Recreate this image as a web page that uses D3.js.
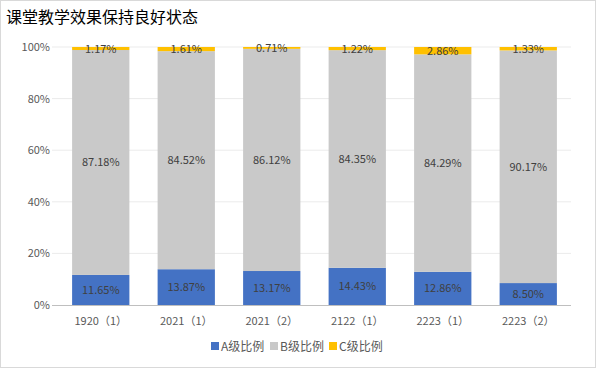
<!DOCTYPE html>
<html>
<head>
<meta charset="utf-8">
<script src="https://cdn.jsdelivr.net/npm/d3@7"></script>
<style>
  body { margin: 0; background: #fff; }
  svg { display: block; font-family: "Noto Sans CJK SC", "DejaVu Sans", sans-serif; }
</style>
</head>
<body>
<script>
const categories = ['1920（1）', '2021（1）', '2021（2）', '2122（1）', '2223（1）', '2223（2）']
const seriesNames = ['A级比例', 'B级比例', 'C级比例']
const aValues = [11.65, 13.87, 13.17, 14.43, 12.86, 8.50]
const bValues = [87.18, 84.52, 86.12, 84.35, 84.29, 90.17]
const cValues = [1.17, 1.61, 0.71, 1.22, 2.86, 1.33]
const yTicks = [0, 20, 40, 60, 80, 100]
const colors = ['#4472c4', '#c9c9c9', '#ffc000']

var width = 596,
    height = 368
var margin = {top: 47, right: 25, bottom: 63, left: 58}

var svg = d3.select('body').append('svg')
    .attr('width', width)
    .attr('height', height)

svg.append('rect')
    .attr('x', 0.5).attr('y', 0.5)
    .attr('width', width - 1).attr('height', height - 1)
    .attr('fill', '#fff')
    .attr('stroke', '#d9d9d9')

svg.append('text')
    .attr('x', 6).attr('y', 23)
    .attr('font-size', 16)
    .attr('fill', '#000')
    .text('课堂教学效果保持良好状态')

var x = d3.scaleBand()
    .domain(categories)
    .range([margin.left, width - margin.right])
    .paddingInner(0.33)
    .paddingOuter(0.165)

var y = d3.scaleLinear()
    .domain([0, 100])
    .range([height - margin.bottom, margin.top])

// gridlines
svg.append('g')
    .selectAll('line')
    .data(yTicks.slice(1))
    .enter().append('line')
    .attr('x1', margin.left - 6).attr('x2', width - margin.right)
    .attr('y1', d => y(d)).attr('y2', d => y(d))
    .attr('stroke', '#ebebeb')

var rows = categories.map((c, i) => ({cat: c, A: aValues[i], B: bValues[i], C: cValues[i]}))
var stacked = d3.stack().keys(['A', 'B', 'C'])(rows)

var groups = svg.append('g')
    .selectAll('g')
    .data(stacked)
    .enter().append('g')
    .attr('fill', (d, i) => colors[i])

groups.selectAll('rect')
    .data(d => d)
    .enter().append('rect')
    .attr('x', d => x(d.data.cat))
    .attr('width', x.bandwidth())
    .attr('y', d => y(Math.min(d[1], 100)))
    .attr('height', d => y(d[0]) - y(Math.min(d[1], 100)))

// value labels
groups.selectAll('text')
    .data(d => d)
    .enter().append('text')
    .attr('x', d => x(d.data.cat) + x.bandwidth() / 2)
    .attr('y', d => y((d[0] + Math.min(d[1], 100)) / 2) + 4)
    .attr('text-anchor', 'middle')
    .attr('font-size', 11)
    .attr('fill', '#404040')
    .text(d => (d[1] - d[0]).toFixed(2) + '%')

// x axis line
svg.append('line')
    .attr('x1', margin.left - 6).attr('x2', width - margin.right)
    .attr('y1', y(0) + 0.5).attr('y2', y(0) + 0.5)
    .attr('stroke', '#bfbfbf')

// y tick labels
svg.append('g')
    .selectAll('text')
    .data(yTicks)
    .enter().append('text')
    .attr('x', 50)
    .attr('y', d => y(d) + 4)
    .attr('text-anchor', 'end')
    .attr('font-size', 11)
    .attr('fill', '#595959')
    .text(d => d + '%')

// x labels
svg.append('g')
    .selectAll('text')
    .data(categories)
    .enter().append('text')
    .attr('x', d => x(d) + x.bandwidth() / 2)
    .attr('y', 325)
    .attr('text-anchor', 'middle')
    .attr('font-size', 11)
    .attr('fill', '#595959')
    .text(d => d)

// legend
var legend = svg.append('g')
var lx = 211
seriesNames.forEach((name, i) => {
    var g = legend.append('g').attr('transform', 'translate(' + (lx + i * 59) + ',342)')
    g.append('rect').attr('width', 8).attr('height', 8).attr('fill', colors[i])
    g.append('text').attr('x', 10).attr('y', 9)
        .attr('font-size', 12).attr('fill', '#595959')
        .text(name)
})
</script>
</body>
</html>
